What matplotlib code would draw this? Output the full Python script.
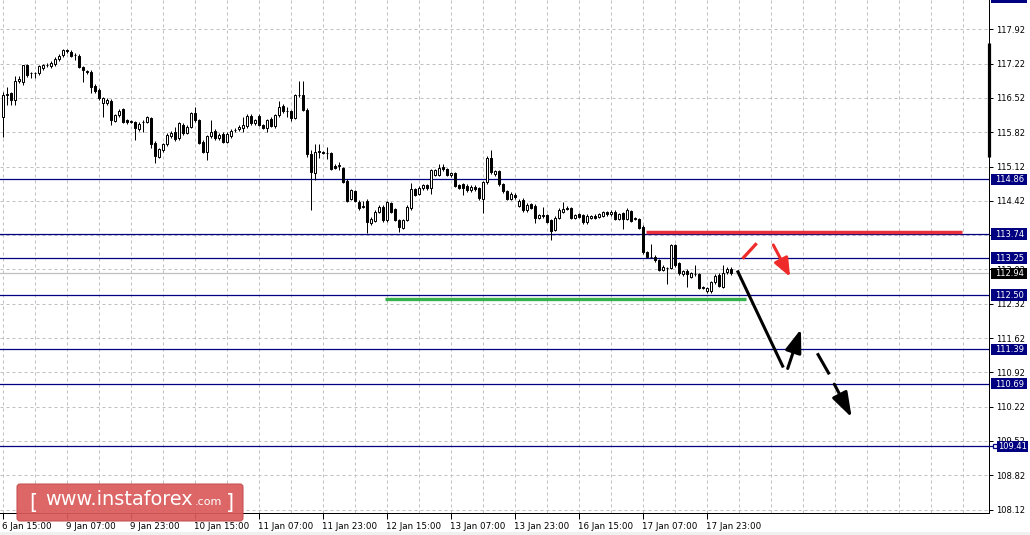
import matplotlib
matplotlib.use("Agg")
import matplotlib.pyplot as plt
import matplotlib.transforms as mtransforms
from matplotlib.patches import FancyBboxPatch, Rectangle
import numpy as np

# ---------------- data (USDJPY H1 candles) ----------------
opens = [
    116.13, 116.58, 116.62, 116.48, 116.87, 116.85, 117.19, 117.02, 117.03, 117.02,
    117.13, 117.19, 117.17, 117.21, 117.31, 117.39, 117.49, 117.46, 117.40, 117.38,
    117.15, 117.06, 117.06, 116.77, 116.68, 116.41, 116.41, 116.46, 116.06, 116.17,
    116.29, 116.07, 116.04, 116.02, 115.88, 116.02, 116.04, 116.11, 115.61, 115.32,
    115.45, 115.58, 115.74, 115.83, 115.70, 115.97, 115.81, 115.93, 116.22, 116.08,
    115.63, 115.42, 115.74, 115.85, 115.70, 115.79, 115.63, 115.74, 115.87, 115.88,
    115.90, 115.94, 116.16, 116.00, 116.16, 115.97, 115.90, 116.10, 115.94, 116.17,
    116.36, 116.25, 116.25, 116.12, 116.58, 116.58, 116.28, 115.37, 114.98, 115.43,
    115.41, 115.40, 115.39, 115.14, 115.14, 115.09, 114.83, 114.46, 114.62, 114.40,
    114.30, 114.42, 113.96, 114.01, 114.20, 114.30, 114.02, 114.37, 114.25, 114.03,
    113.87, 114.03, 114.27, 114.66, 114.57, 114.68, 114.74, 114.68, 114.95, 114.95,
    115.12, 115.07, 114.94, 114.98, 114.74, 114.76, 114.73, 114.64, 114.71, 114.68,
    114.46, 114.80, 115.30, 114.96, 115.03, 114.76, 114.62, 114.46, 114.55, 114.32,
    114.44, 114.23, 114.35, 114.32, 114.08, 114.14, 114.13, 114.03, 113.83, 114.08,
    114.20, 114.28, 114.27, 114.08, 114.15, 114.13, 113.98, 114.08, 114.12, 114.10,
    114.12, 114.19, 114.15, 114.20, 114.05, 114.17, 114.05, 114.21, 114.06, 114.05,
    113.89, 113.37, 113.28, 113.28, 113.21, 113.01, 113.05, 113.05, 113.52, 113.15,
    112.92, 112.99, 112.87, 112.92, 112.92, 112.65, 112.58, 112.58, 112.76, 112.91,
    112.67, 112.96, 113.04,
]
closes = [
    116.58, 116.60, 116.48, 116.87, 116.91, 117.19, 116.99, 117.03, 117.02, 117.17,
    117.19, 117.20, 117.24, 117.31, 117.38, 117.49, 117.48, 117.38, 117.40, 117.15,
    117.09, 117.06, 116.75, 116.67, 116.51, 116.51, 116.48, 116.08, 116.17, 116.26,
    116.04, 116.02, 116.04, 115.90, 115.99, 116.02, 116.13, 115.59, 115.34, 115.47,
    115.58, 115.77, 115.81, 115.68, 116.00, 115.80, 115.93, 116.21, 116.07, 115.61,
    115.42, 115.74, 115.83, 115.70, 115.77, 115.63, 115.79, 115.85, 115.87, 115.92,
    115.97, 116.16, 116.00, 116.07, 115.97, 115.91, 116.07, 115.95, 116.17, 116.34,
    116.25, 116.25, 116.12, 116.58, 116.58, 116.28, 115.37, 115.00, 115.41, 115.42,
    115.40, 115.40, 115.08, 115.10, 115.14, 114.81, 114.42, 114.64, 114.42, 114.27,
    114.31, 113.98, 114.06, 114.20, 114.30, 114.02, 114.39, 114.20, 114.03, 113.89,
    114.03, 114.30, 114.66, 114.55, 114.69, 114.74, 114.68, 115.05, 115.05, 115.10,
    115.07, 114.95, 114.98, 114.73, 114.69, 114.69, 114.64, 114.71, 114.66, 114.47,
    114.80, 115.30, 115.00, 115.03, 114.76, 114.62, 114.46, 114.57, 114.49, 114.42,
    114.23, 114.34, 114.28, 114.08, 114.13, 114.11, 113.99, 113.81, 114.08, 114.24,
    114.26, 114.26, 114.08, 114.13, 114.10, 113.98, 114.12, 114.11, 114.08, 114.15,
    114.19, 114.15, 114.20, 114.05, 114.15, 114.06, 114.23, 114.01, 114.06, 113.87,
    113.37, 113.28, 113.28, 113.21, 113.01, 113.08, 113.05, 113.52, 113.11, 112.94,
    112.98, 112.92, 112.94, 112.92, 112.65, 112.65, 112.64, 112.76, 112.89, 112.69,
    112.94, 113.04, 112.94,
]
highs = [
    116.65, 116.75, 116.65, 116.96, 116.96, 117.19, 117.22, 117.06, 117.06, 117.20,
    117.22, 117.24, 117.28, 117.35, 117.41, 117.52, 117.53, 117.50, 117.43, 117.41,
    117.17, 117.10, 117.10, 116.80, 116.72, 116.54, 116.52, 116.49, 116.20, 116.29,
    116.31, 116.09, 116.07, 116.05, 116.02, 116.07, 116.16, 116.14, 115.64, 115.50,
    115.61, 115.80, 115.85, 115.93, 116.04, 116.00, 115.96, 116.24, 116.33, 116.10,
    115.66, 115.77, 116.07, 115.88, 115.80, 115.82, 115.82, 115.88, 115.91, 115.96,
    116.14, 116.19, 116.19, 116.10, 116.19, 115.99, 116.10, 116.13, 116.20, 116.46,
    116.39, 116.34, 116.28, 116.61, 116.87, 116.87, 116.31, 115.46, 115.59, 115.59,
    115.44, 115.53, 115.42, 115.17, 115.21, 115.12, 114.86, 114.67, 114.65, 114.43,
    114.42, 114.45, 114.09, 114.23, 114.33, 114.33, 114.42, 114.40, 114.28, 114.06,
    114.06, 114.33, 114.78, 114.69, 114.72, 114.77, 114.77, 115.08, 115.08, 115.17,
    115.17, 115.10, 115.01, 115.01, 114.77, 114.79, 114.76, 114.74, 114.74, 114.71,
    114.83, 115.33, 115.46, 115.06, 115.06, 114.79, 114.65, 114.60, 114.58, 114.45,
    114.47, 114.37, 114.38, 114.35, 114.16, 114.30, 114.16, 114.06, 114.11, 114.27,
    114.39, 114.31, 114.30, 114.16, 114.18, 114.16, 114.15, 114.14, 114.15, 114.18,
    114.22, 114.22, 114.23, 114.23, 114.18, 114.20, 114.28, 114.24, 114.10, 114.08,
    113.92, 113.40, 113.55, 113.31, 113.24, 113.11, 113.08, 113.55, 113.55, 113.18,
    113.01, 113.02, 112.97, 113.11, 112.95, 112.68, 112.67, 112.79, 112.92, 112.94,
    113.11, 113.07, 113.07,
]
lows = [
    115.73, 116.38, 116.38, 116.38, 116.82, 116.79, 116.95, 116.92, 116.92, 116.98,
    117.10, 117.15, 117.14, 117.18, 117.28, 117.36, 117.44, 117.35, 117.30, 117.13,
    116.85, 117.00, 116.63, 116.62, 116.48, 116.14, 116.38, 115.97, 116.03, 116.14,
    116.01, 115.99, 116.00, 115.66, 115.85, 115.83, 116.00, 115.49, 115.19, 115.29,
    115.42, 115.55, 115.71, 115.64, 115.67, 115.77, 115.78, 115.90, 116.04, 115.58,
    115.39, 115.26, 115.71, 115.67, 115.67, 115.60, 115.60, 115.71, 115.83, 115.85,
    115.82, 115.91, 115.97, 115.97, 115.94, 115.88, 115.82, 115.92, 115.91, 116.14,
    116.22, 116.14, 116.05, 116.09, 116.55, 116.25, 115.32, 114.23, 114.85, 115.29,
    115.37, 115.27, 115.05, 115.07, 115.05, 114.78, 114.39, 114.43, 114.39, 114.24,
    114.27, 113.76, 113.93, 113.98, 114.17, 113.99, 113.99, 114.17, 114.00, 113.79,
    113.84, 114.00, 114.24, 114.52, 114.54, 114.65, 114.65, 114.57, 114.92, 114.92,
    115.04, 114.92, 114.91, 114.70, 114.66, 114.54, 114.61, 114.61, 114.63, 114.44,
    114.17, 114.77, 114.97, 114.93, 114.73, 114.59, 114.43, 114.43, 114.46, 114.29,
    114.20, 114.20, 114.25, 113.96, 114.05, 114.08, 113.96, 113.62, 113.80, 114.05,
    114.17, 114.23, 114.05, 114.05, 114.07, 113.95, 113.95, 114.05, 114.05, 114.07,
    114.09, 114.12, 114.12, 114.02, 114.02, 113.85, 114.02, 113.98, 114.02, 113.84,
    113.34, 113.25, 113.25, 113.18, 112.98, 112.98, 112.72, 113.02, 113.08, 112.91,
    112.89, 112.67, 112.84, 112.89, 112.62, 112.62, 112.55, 112.53, 112.73, 112.66,
    112.64, 112.93, 112.91,
]

x_tick_bars = [0, 16, 32, 48, 64, 80, 96, 112, 128, 144, 160, 176]
x_tick_labels = ["6 Jan 15:00", "9 Jan 07:00", "9 Jan 23:00", "10 Jan 15:00",
                 "11 Jan 07:00", "11 Jan 23:00", "12 Jan 15:00", "13 Jan 07:00",
                 "13 Jan 23:00", "16 Jan 15:00", "17 Jan 07:00", "17 Jan 23:00"]
y_tick_prices = [108.12, 108.82, 109.52, 110.22, 110.92, 111.62, 112.32, 113.02,
                 113.72, 114.42, 115.12, 115.82, 116.52, 117.22, 117.92]
y_hidden_prices = [113.72]   # tick label fully covered by the 113.74 price box
level_prices = [114.86, 113.74, 113.25, 112.50, 111.39, 110.69, 109.41]
bid_price = 112.94

# drawn analysis objects: (bar index, price)
red_level_bars = [160.9, 239.8]
red_level_price = 113.79
green_level_bars = [95.6, 185.9]
green_level_price = 112.42
red_stroke = [(185.0, 113.24), (188.55, 113.555)]
red_arrow = [(192.7, 113.52), (196.9, 112.87)]
black_stroke = [(183.7, 113.00), (195.2, 111.02)]
black_up_arrow = [(196.3, 111.00), (199.6, 111.80)]
black_dash = [(203.7, 111.31), (206.7, 110.88)]
black_down_arrow = [(207.95, 110.68), (212.3, 110.00)]
marker_bar_prices = [117.64, 115.32]

# ---------------- figure ----------------
W, H = 1030, 535
fig = plt.figure(figsize=(W / 100, H / 100), dpi=100)
fig.patch.set_facecolor("white")
ax = fig.add_axes([0, 22 / H, 989 / W, 513 / H])
ax.set_facecolor("white")
ax.set_xlim(-0.625, 246.625)
ax.set_ylim(108.05, 118.52)
PX_PER_PRICE = 513 / (118.52 - 108.05)
PX_PER_AXFRAC = 989.0

FONT = "DejaVu Sans"
FS = 6.3
FSY = 6.0
PX = 0.72  # one pixel in points

# grid
for gx in range(0, 247, 8):
    ax.axvline(gx, color="#c0c0c0", lw=PX, ls=(0, (3, 3)), zorder=0.5)
for gy in y_tick_prices:
    ax.axhline(gy, color="#c0c0c0", lw=PX, ls=(0, (3, 3)), zorder=0.5)

# level lines
for lv in level_prices:
    ax.axhline(lv, color="#000080", lw=0.9, zorder=2)
ax.axhline(bid_price, color="#c0c0c0", lw=0.9, zorder=1.8)

# candles
o = np.array(opens); c = np.array(closes); h = np.array(highs); l = np.array(lows)
xs = np.arange(len(o))
bull = c >= o
ax.vlines(xs, l, h, color="black", lw=PX, zorder=3)
bottoms = np.minimum(o, c)
heights = np.maximum(np.abs(c - o), 0.004)
ax.bar(xs, heights, bottom=bottoms, width=0.5,
       color=np.where(bull, "white", "black"), edgecolor="black",
       linewidth=PX, zorder=4)

# analysis drawings
ax.plot(red_level_bars, [red_level_price] * 2, color="#e8303a", lw=2.5,
        solid_capstyle="butt", zorder=5)
ax.plot(green_level_bars, [green_level_price] * 2, color="#35b04a", lw=2.4,
        solid_capstyle="butt", zorder=5)
ax.plot(*zip(*red_stroke), color="#ee2a2a", lw=2.3, solid_capstyle="butt", zorder=5)
ax.plot(*zip(*black_stroke), color="black", lw=2.2, solid_capstyle="butt", zorder=5)
ax.plot(*zip(*black_dash), color="black", lw=2.2, solid_capstyle="butt", zorder=5)


def arrow(seg, color, hl, hw):
    ax.annotate("", xy=seg[1], xytext=seg[0],
                arrowprops=dict(arrowstyle=f"-|>,head_length={hl},head_width={hw}",
                                color=color, lw=2.2, shrinkA=0, shrinkB=0),
                zorder=6)


arrow(red_arrow, "#ee2a2a", 1.1, 0.45)
arrow(black_up_arrow, "black", 1.4, 0.5)
arrow(black_down_arrow, "black", 1.5, 0.5)

# axes styling
for s in ["left", "top"]:
    ax.spines[s].set_visible(False)
ax.spines["right"].set_color("black")
ax.spines["bottom"].set_color("black")
ax.spines["right"].set_linewidth(PX)
ax.spines["bottom"].set_linewidth(PX)
ax.yaxis.tick_right()
ax.set_yticks(y_tick_prices)
ax.set_yticklabels(["" if v in y_hidden_prices else f"{v:.2f}" for v in y_tick_prices],
                   fontsize=FSY, family=FONT)
ax.set_xticks(x_tick_bars)
ax.set_xticklabels(x_tick_labels, fontsize=FS, family=FONT, ha="left")
ax.tick_params(axis="y", direction="out", length=3, width=PX, pad=2, colors="black")
ax.tick_params(axis="x", direction="out", length=4, width=PX, pad=2.5, colors="black")
for lab in ax.get_xticklabels():
    lab.set_transform(lab.get_transform() + mtransforms.ScaledTranslation(-1 / 100, 0, fig.dpi_scale_trans))

ytr = ax.get_yaxis_transform()
# price marker bar on the axis
ax.plot([1.0, 1.0], marker_bar_prices, color="black", lw=2.3, transform=ytr,
        clip_on=False, solid_capstyle="butt", zorder=6)


def price_box(price, fc, dx=2, box_w=36):
    box_h = 11.5
    ax.add_patch(Rectangle((1 + dx / PX_PER_AXFRAC, price - box_h / 2 / PX_PER_PRICE),
                           box_w / PX_PER_AXFRAC, box_h / PX_PER_PRICE, transform=ytr,
                           fc=fc, ec="none", clip_on=False, zorder=9))
    ax.text(1 + (dx + 4) / PX_PER_AXFRAC, price - 0.4 / PX_PER_PRICE, f"{price:.2f}",
            transform=ytr, ha="left", va="center", fontsize=FSY, family=FONT,
            color="white", clip_on=False, zorder=10)


for lv in level_prices:
    if lv == 109.41:
        ax.plot([1.0, 1.006], [lv, lv], color="#000080", lw=0.9, transform=ytr,
                clip_on=False, zorder=9)
        ax.plot([1.0058], [lv], marker="s", ms=3.2, mfc="white", mec="#000080",
                mew=0.9, transform=ytr, clip_on=False, zorder=9)
        ax.add_patch(Rectangle((1 + 8 / PX_PER_AXFRAC, lv - 5.75 / PX_PER_PRICE),
                               31 / PX_PER_AXFRAC, 11.5 / PX_PER_PRICE, transform=ytr,
                               fc="#000080", ec="none", clip_on=False, zorder=9))
        ax.text(1 + 9 / PX_PER_AXFRAC, lv - 0.4 / PX_PER_PRICE, f"{lv:.2f}",
                transform=ytr, ha="left", va="center", fontsize=FSY, family=FONT,
                color="white", clip_on=False, zorder=10)
    else:
        price_box(lv, "#000080")
price_box(bid_price, "black")

ident = mtransforms.IdentityTransform()
# cut-off label box at the top
fig.add_artist(Rectangle((991, H - 3), 36, 3, transform=ident, fc="#000080", ec="none"))
# light strip at the bottom
fig.add_artist(Rectangle((0, 0), W, 3, transform=ident, fc="#f0f0f0", ec="none"))

# logo
fig.add_artist(FancyBboxPatch((17, H - 521), 226, 37, boxstyle="round,pad=0,rounding_size=3",
                              transform=ident, fc="#da5a5a", ec="#c44c4c", lw=0.8,
                              alpha=0.92, zorder=20))
fig.text(29 / W, (H - 503) / H, "[", fontsize=15, color="white", family=FONT,
         ha="left", va="center", zorder=21)
fig.text(45 / W, (H - 505) / H, "www.instaforex", fontsize=13.9, color="white",
         family=FONT, ha="left", va="baseline", zorder=21)
fig.text(195 / W, (H - 505) / H, ".com", fontsize=8, color="white", family=FONT,
         ha="left", va="baseline", zorder=21)
fig.text(226 / W, (H - 503) / H, "]", fontsize=15, color="white", family=FONT,
         ha="left", va="center", zorder=21)

fig.savefig("out.png", dpi=100)
